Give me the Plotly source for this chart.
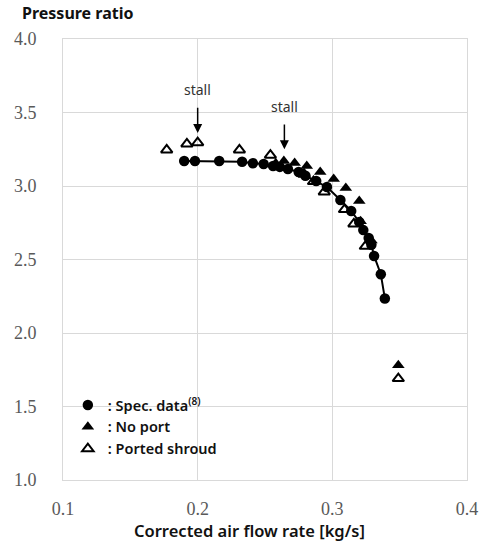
import plotly.graph_objects as go

# Spec. data (filled circles, connected)
spec_x = [0.190, 0.198, 0.216, 0.233, 0.241, 0.249, 0.256, 0.261, 0.267, 0.275,
          0.280, 0.288, 0.296, 0.306, 0.314, 0.320, 0.323, 0.327, 0.329, 0.331,
          0.336, 0.339]
spec_y = [3.17, 3.17, 3.17, 3.165, 3.155, 3.15, 3.136, 3.13, 3.116, 3.095,
          3.07, 3.034, 2.993, 2.905, 2.83, 2.755, 2.70, 2.646, 2.60, 2.524,
          2.40, 2.235]

# No port (filled triangles)
noport_x = [0.258, 0.264, 0.272, 0.281, 0.291, 0.301, 0.310, 0.320, 0.321, 0.329, 0.349]
noport_y = [3.155, 3.17, 3.156, 3.136, 3.095, 3.048, 2.986, 2.898, 2.76, 2.63, 1.78]

# Ported shroud (open triangles)
ported_x = [0.177, 0.192, 0.200, 0.231, 0.254, 0.279, 0.286, 0.294, 0.309, 0.316, 0.3245, 0.349]
ported_y = [3.245, 3.286, 3.295, 3.245, 3.21, 3.08, 3.03, 2.96, 2.84, 2.742, 2.59, 1.69]

# stall annotations: (x, text y, arrow tip y)
stall_x = [0.200, 0.2644]
stall_text_y = [3.655, 3.54]
stall_tip_y = [3.36, 3.25]

x_ticks = [0.1, 0.2, 0.3, 0.4]
y_ticks = [1.0, 1.5, 2.0, 2.5, 3.0, 3.5, 4.0]

fig = go.Figure()
fig.add_trace(go.Scatter(
    x=spec_x, y=spec_y, mode="lines", showlegend=False, hoverinfo="skip",
    line=dict(color="black", width=2),
))
fig.add_trace(go.Scatter(
    x=spec_x, y=spec_y, mode="markers",
    name=": Spec. data<sup>(8)</sup>",
    marker=dict(symbol="circle", size=10.5, color="black"),
))
fig.add_trace(go.Scatter(
    x=noport_x, y=noport_y, mode="markers", name=": No port",
    marker=dict(symbol="triangle-up", size=11, color="black"),
))
fig.add_trace(go.Scatter(
    x=ported_x, y=ported_y, mode="markers", name=": Ported shroud",
    marker=dict(symbol="triangle-up-open", size=10, color="black",
                line=dict(width=2, color="black")),
))

for sx, ty, tip in zip(stall_x, stall_text_y, stall_tip_y):
    fig.add_annotation(x=sx, y=tip, ax=sx, ay=ty, axref="x", ayref="y",
                       text="stall", showarrow=True, arrowhead=2, arrowsize=1.2,
                       arrowwidth=1.5, arrowcolor="black", startstandoff=7,
                       font=dict(family="Noto Sans", size=14, color="#333"))

serif = "Times New Roman, Liberation Serif, DejaVu Serif, serif"
axis_common = dict(
    showgrid=True, gridcolor="#d9d9d9", gridwidth=1,
    showline=True, linecolor="#d9d9d9", linewidth=1, mirror=True,
    zeroline=False, ticks="",
    tickfont=dict(family=serif, size=18, color="#595959"),
)
fig.update_xaxes(range=[0.1, 0.4], tickvals=x_ticks,
                 ticktext=[f"{v:.1f}" for v in x_ticks],
                 ticklabelstandoff=12, **axis_common)
fig.update_yaxes(range=[1.0, 4.0], tickvals=y_ticks,
                 ticktext=[f"{v:.1f}" for v in y_ticks],
                 ticklabelstandoff=22, **axis_common)

fig.add_annotation(xref="paper", yref="paper", x=-0.107, y=1.0, yshift=13,
                   xanchor="left", yanchor="bottom", showarrow=False,
                   text="<b>Pressure ratio</b>",
                   font=dict(family="Noto Sans", size=16, color="#111"))
fig.add_annotation(xref="paper", yref="paper", x=0.461, y=0, yshift=-37,
                   xanchor="center", yanchor="top", showarrow=False,
                   text="Corrected air flow rate [kg/s]",
                   font=dict(family="Noto Sans", size=16.5, color="#111", weight=600))

fig.update_layout(
    width=490, height=544,
    margin=dict(l=63, r=15, t=39, b=64),
    paper_bgcolor="white", plot_bgcolor="white",
    showlegend=True,
    legend=dict(x=0.012, y=0.034, xanchor="left", yanchor="bottom",
                bgcolor="rgba(0,0,0,0)", tracegroupgap=0,
                font=dict(family="Noto Sans", size=14.5, color="#111", weight=600),
                itemwidth=30),
)

fig.write_html("out.html")
